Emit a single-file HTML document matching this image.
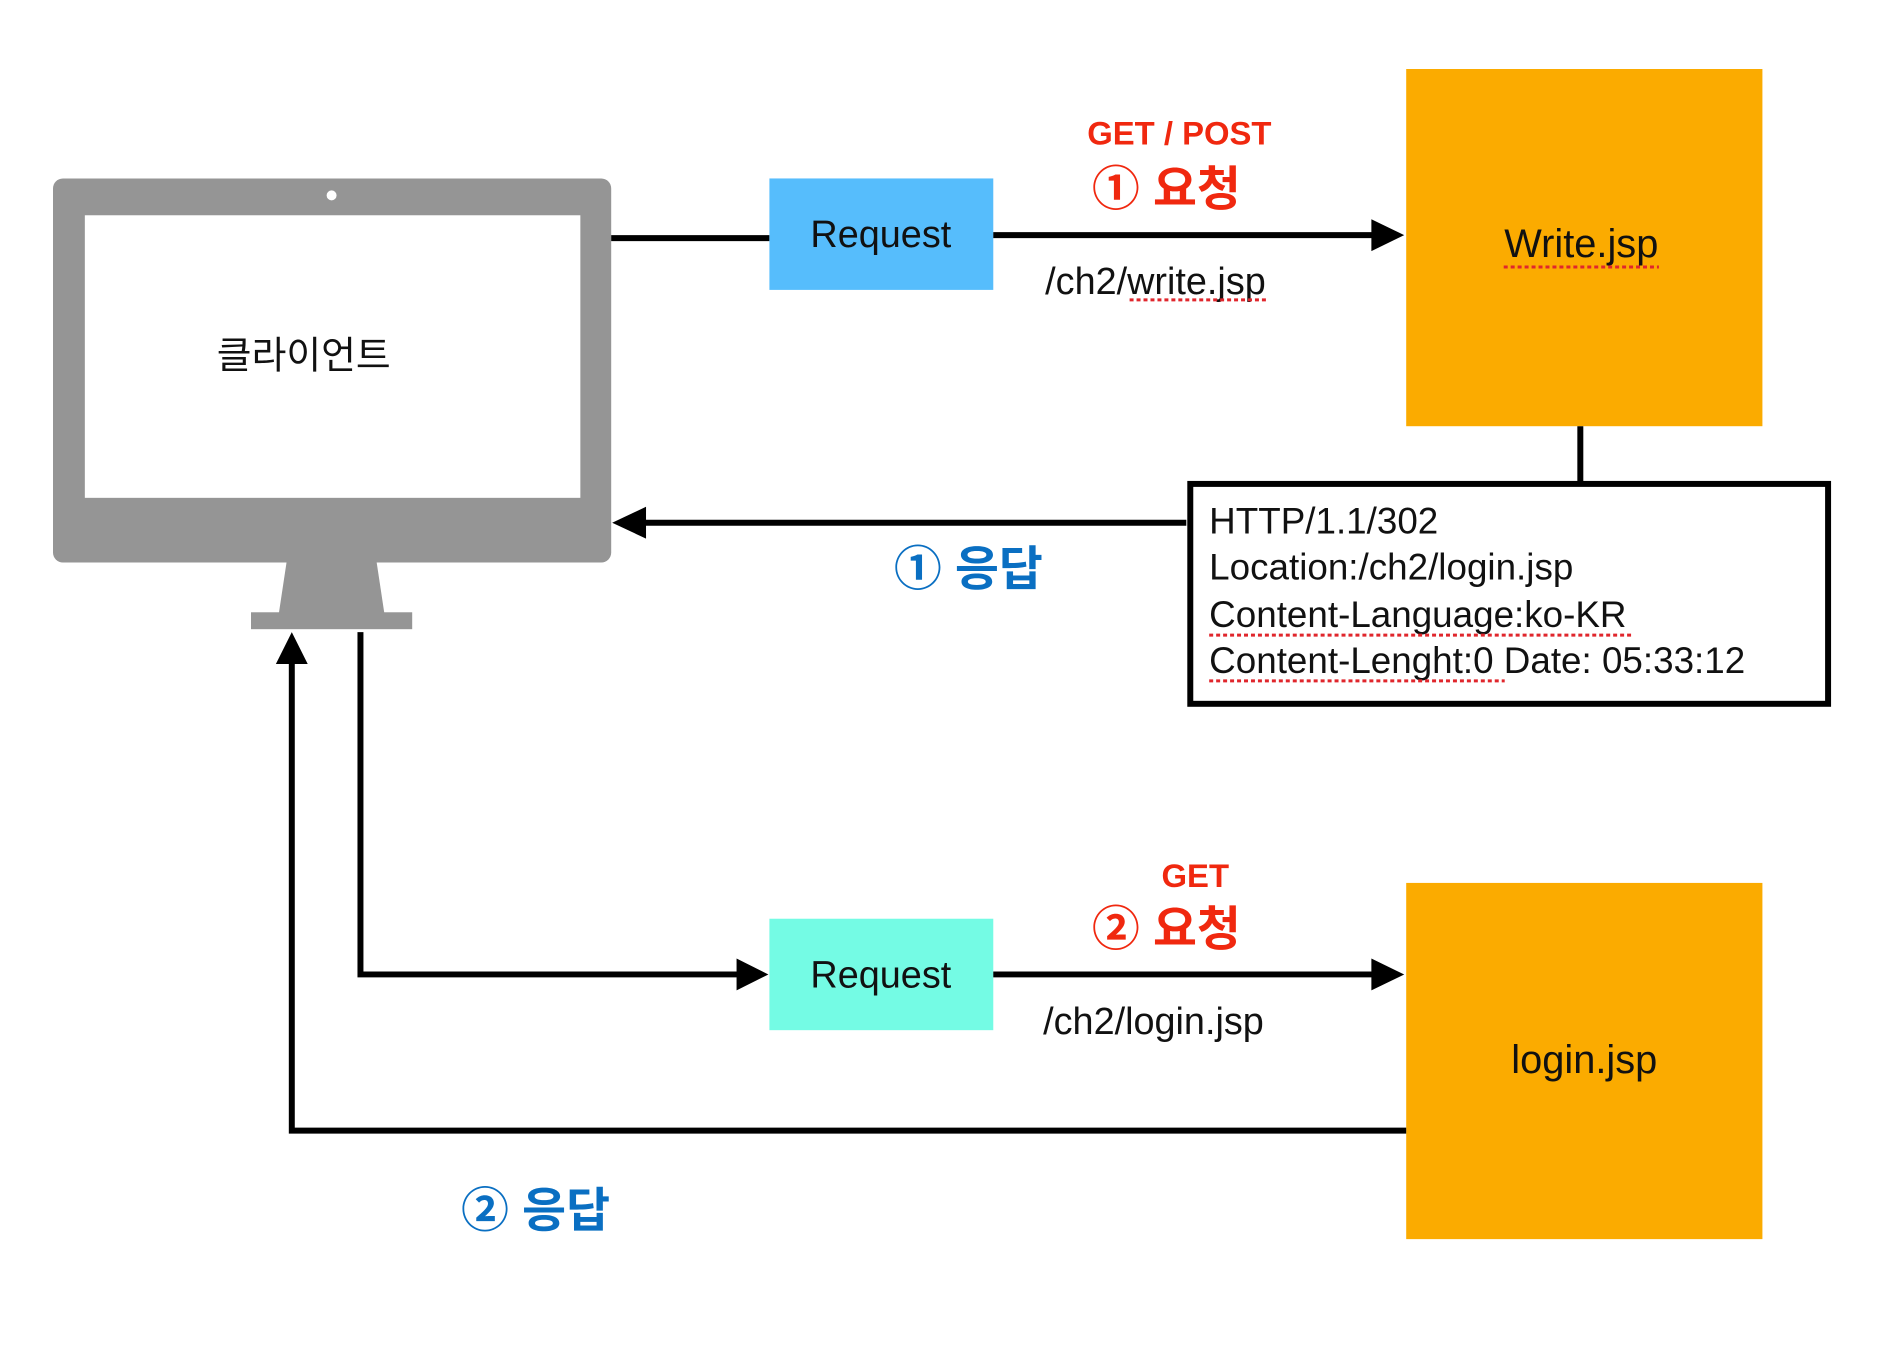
<!DOCTYPE html>
<html><head><meta charset="utf-8"><style>
html,body{margin:0;padding:0;background:#fff;}
svg{display:block}
text{font-family:"Liberation Sans","Noto Sans CJK KR",sans-serif;}
</style></head><body>
<svg width="1890" height="1364" viewBox="0 0 1890 1364" xmlns="http://www.w3.org/2000/svg">
<g transform="translate(53,69) scale(0.995) translate(-53,-69)">
<!-- monitor -->
<rect x="53" y="179" width="561" height="386" rx="10" fill="#959595"/>
<rect x="85" y="216" width="498" height="284" fill="#fff"/>
<circle cx="333" cy="196" r="5" fill="#fff"/>
<polygon points="288,563 378,563 386,616 280,616" fill="#959595"/>
<rect x="252" y="615" width="162" height="17" fill="#959595"/>
<text x="305" y="370" font-size="38" text-anchor="middle" fill="#111">클라이언트</text>

<!-- request 1 -->
<line x1="614" y1="239" x2="773" y2="239" stroke="#000" stroke-width="6"/>
<rect x="773" y="179" width="225" height="112" fill="#56bdfc"/>
<text x="885" y="248" font-size="38" text-anchor="middle" fill="#111">Request</text>
<line x1="998" y1="236" x2="1382" y2="236" stroke="#000" stroke-width="6"/>
<polygon points="1378,220 1411,236 1378,252" fill="#000"/>
<text x="1185" y="145" font-size="33" font-weight="bold" text-anchor="middle" fill="#f0280f">GET / POST</text>
<text x="1172" y="206" font-size="48" font-weight="bold" text-anchor="middle" fill="#f0280f">① 요청</text>
<text x="1161" y="295" font-size="38" text-anchor="middle" fill="#111">/ch2/write.jsp</text>
<line x1="1135" y1="301" x2="1272" y2="301" stroke="#e0262c" stroke-width="3" stroke-dasharray="4,3"/>

<!-- write.jsp -->
<rect x="1413" y="69" width="358" height="359" fill="#fbab00"/>
<text x="1589" y="258" font-size="40" text-anchor="middle" fill="#111">Write.jsp</text>
<line x1="1511" y1="268" x2="1667" y2="268" stroke="#e0262c" stroke-width="3" stroke-dasharray="4,3"/>
<line x1="1588" y1="428" x2="1588" y2="485" stroke="#000" stroke-width="6"/>

<!-- response box -->
<rect x="1196" y="486" width="641" height="221" fill="#fff" stroke="#000" stroke-width="6"/>
<text x="1215" y="536" font-size="37" fill="#111">HTTP/1.1/302</text>
<text x="1215" y="582" font-size="37" fill="#111">Location:/ch2/login.jsp</text>
<text x="1215" y="630" font-size="37" fill="#111">Content-Language:ko-KR</text>
<line x1="1215" y1="638" x2="1642" y2="638" stroke="#e0262c" stroke-width="3" stroke-dasharray="4,3"/>
<text x="1215" y="676" font-size="37" fill="#111">Content-Lenght:0 Date: 05:33:12</text>
<line x1="1215" y1="684" x2="1512" y2="684" stroke="#e0262c" stroke-width="3" stroke-dasharray="4,3"/>

<!-- response 1 arrow -->
<line x1="645" y1="525" x2="1192" y2="525" stroke="#000" stroke-width="6"/>
<polygon points="649,509 615,525 649,541" fill="#000"/>
<text x="973" y="588" font-size="48" font-weight="bold" text-anchor="middle" fill="#0a6fc2">① 응답</text>

<!-- request 2 path -->
<polyline points="362,635 362,979 745,979" fill="none" stroke="#000" stroke-width="6"/>
<polygon points="740,963 772,979 740,995" fill="#000"/>
<rect x="773" y="923" width="225" height="112" fill="#74fbe4"/>
<text x="885" y="992" font-size="38" text-anchor="middle" fill="#111">Request</text>
<line x1="998" y1="979" x2="1382" y2="979" stroke="#000" stroke-width="6"/>
<polygon points="1378,963 1411,979 1378,995" fill="#000"/>
<text x="1201" y="891" font-size="33" font-weight="bold" text-anchor="middle" fill="#f0280f">GET</text>
<text x="1172" y="950" font-size="48" font-weight="bold" text-anchor="middle" fill="#f0280f">② 요청</text>
<text x="1159" y="1039" font-size="38" text-anchor="middle" fill="#111">/ch2/login.jsp</text>

<!-- login.jsp -->
<rect x="1413" y="887" width="358" height="358" fill="#fbab00"/>
<text x="1592" y="1078" font-size="40" text-anchor="middle" fill="#111">login.jsp</text>

<!-- response 2 -->
<polyline points="1413,1136 293,1136 293,664" fill="none" stroke="#000" stroke-width="6"/>
<polygon points="277,667 293,635 309,667" fill="#000"/>
<text x="538" y="1233" font-size="48" font-weight="bold" text-anchor="middle" fill="#0a6fc2">② 응답</text>
</g>
</svg>
</body></html>
